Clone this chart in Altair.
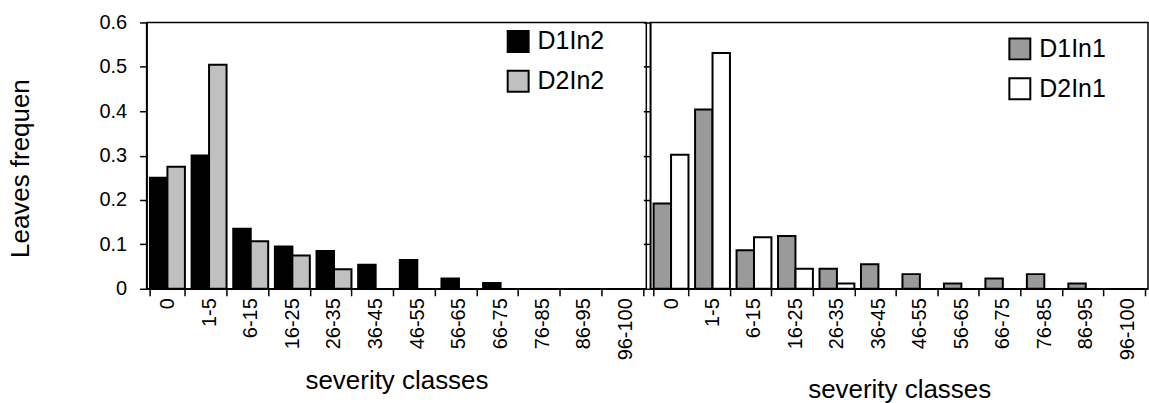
import altair as alt
import pandas as pd

cats = ["0", "1-5", "6-15", "16-25", "26-35", "36-45", "46-55", "56-65",
        "66-75", "76-85", "86-95", "96-100"]
d1in2 = [0.250, 0.300, 0.135, 0.095, 0.085, 0.054, 0.065, 0.023, 0.013, 0, 0, 0]
d2in2 = [0.275, 0.505, 0.107, 0.075, 0.044, 0, 0, 0, 0, 0, 0, 0]
d1in1 = [0.192, 0.404, 0.087, 0.119, 0.045, 0.055, 0.033, 0.012, 0.023, 0.033, 0.012, 0]
d2in1 = [0.302, 0.531, 0.116, 0.045, 0.012, 0, 0, 0, 0, 0, 0, 0]

left_series = ["D1In2", "D2In2"]
right_series = ["D1In1", "D2In1"]
left_colors = ["#000000", "#c0c0c0"]
right_colors = ["#9a9a9a", "#ffffff"]
yticks = [0, 0.1, 0.2, 0.3, 0.4, 0.5, 0.6]

FONT = "Liberation Sans"


def make_df(names, series):
    rows = []
    for name, vals in zip(names, series):
        for c, v in zip(cats, vals):
            rows.append({"cat": c, "series": name, "value": v})
    return pd.DataFrame(rows)


df_left = make_df(left_series, [d1in2, d2in2])
df_right = make_df(right_series, [d1in1, d2in1])


def panel(df, names, colors, width, show_ylabels, legend_x, legend_y, title_y):
    if show_ylabels:
        yaxis = alt.Axis(values=yticks, title="Leaves frequen",
                         labelExpr="datum.value == 0 ? '0' : format(datum.value, '.1f')",
                         labelFontSize=20, labelPadding=13, tickSize=7,
                         titleFontSize=26, titleFontWeight="normal",
                         titleX=-126, titleY=146, titleBaseline="middle",
                         grid=False)
    else:
        yaxis = alt.Axis(values=yticks, title=None, labels=False, tickSize=7,
                         grid=False)
    xaxis = alt.Axis(title="severity classes", labelAngle=-90,
                     labelFontSize=20, labelPadding=2, tickSize=7,
                     tickBand="extent", titleFontSize=26,
                     titleFontWeight="normal", titleY=title_y,
                     titleBaseline="middle")
    base = alt.Chart(df).encode(
        x=alt.X("cat:N", sort=cats,
                scale=alt.Scale(domain=cats, paddingInner=0.16, paddingOuter=0.08),
                axis=xaxis),
        y=alt.Y("value:Q", scale=alt.Scale(domain=[0, 0.6], nice=False), axis=yaxis),
        fill=alt.Fill("series:N", sort=names,
                      scale=alt.Scale(domain=names, range=colors),
                      legend=alt.Legend(title=None, orient="none",
                                        legendX=legend_x, legendY=legend_y,
                                        symbolType="square", symbolSize=441,
                                        symbolStrokeColor="black",
                                        symbolStrokeWidth=2,
                                        labelFontSize=25, labelOffset=7,
                                        rowPadding=11, padding=0)),
    )
    layers = []
    for i, name in enumerate(names):
        off = -8.75 if i == 0 else 8.75
        layers.append(
            base.transform_filter(
                f"datum.series == '{name}' && datum.value > 0"
            ).mark_bar(stroke="black", strokeWidth=2,
                       width=alt.RelativeBandSize(0.5), xOffset=off)
        )
    return alt.layer(*layers).properties(width=width, height=267)


left = panel(df_left, left_series, left_colors, 501, True, 360, 6.5, 92)
right = panel(df_right, right_series, right_colors, 499, False, 358, 14, 101)

chart = alt.hconcat(left, right, spacing=4, bounds="flush").resolve_scale(
    fill="independent", y="independent", x="independent"
).configure(
    font=FONT,
    padding={"left": 7, "top": 11, "right": 0, "bottom": 0},
).configure_view(
    stroke="black", strokeWidth=1.5
).configure_axis(
    domainColor="black", domainWidth=1.5, tickColor="black", tickWidth=1.5,
    labelColor="black", titleColor="black", labelFont=FONT, titleFont=FONT
).configure_legend(
    labelFont=FONT, labelColor="black"
)

chart.save("out.html", embed_options={"renderer": "svg", "actions": False})
